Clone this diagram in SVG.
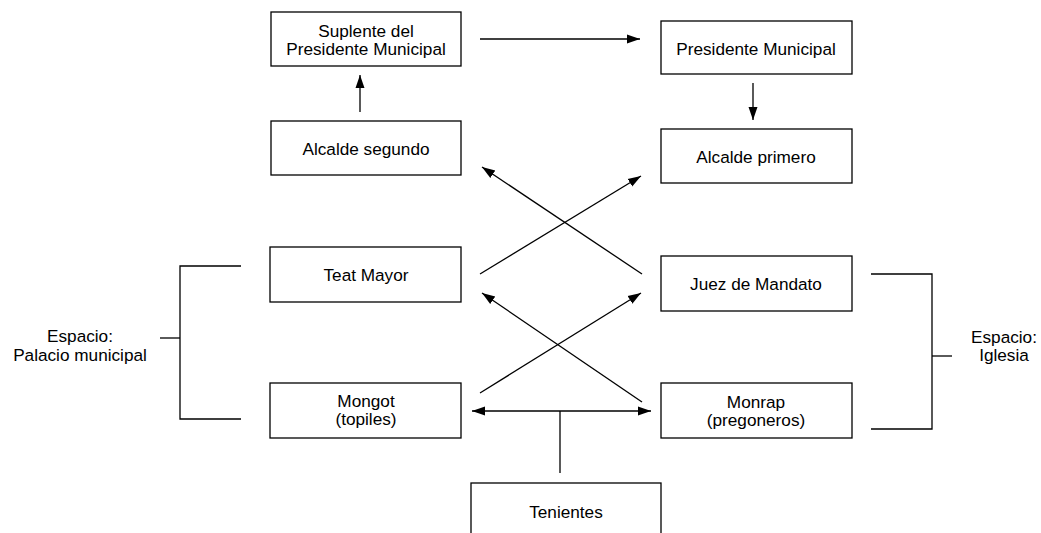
<svg xmlns="http://www.w3.org/2000/svg" width="1041" height="533" viewBox="0 0 1041 533">
<style>
.box{fill:#fff;stroke:#000;stroke-width:1.3}
.t{font-family:"Liberation Sans",Arial,sans-serif;font-size:17.2px;fill:#000;text-anchor:middle}
.c{stroke:#000;stroke-width:1.3;fill:none}
</style>
<defs>
<marker id="ah" markerUnits="userSpaceOnUse" markerWidth="14" markerHeight="12" viewBox="0 0 14 12" refX="13" refY="6" orient="auto-start-reverse">
<path d="M0,1.5 L13,6 L0,10.5 Z" fill="#000"/>
</marker>
</defs>
<rect width="1041" height="533" fill="#fff"/>
<g id="connectors">
<line class="c" x1="480" y1="39" x2="640" y2="39" marker-end="url(#ah)"/>
<line class="c" x1="360" y1="112" x2="360" y2="75" marker-end="url(#ah)"/>
<line class="c" x1="753" y1="83" x2="753" y2="120" marker-end="url(#ah)"/>
<line class="c" x1="480" y1="274" x2="641" y2="176" marker-end="url(#ah)"/>
<line class="c" x1="642" y1="274" x2="482" y2="167" marker-end="url(#ah)"/>
<line class="c" x1="480" y1="393" x2="641" y2="293" marker-end="url(#ah)"/>
<line class="c" x1="642" y1="402" x2="482" y2="293" marker-end="url(#ah)"/>
<line class="c" x1="472" y1="411" x2="651" y2="411" marker-start="url(#ah)" marker-end="url(#ah)"/>
<line class="c" x1="560" y1="411" x2="560" y2="473"/>
<polyline class="c" points="241,266 180,266 180,419 241,419"/>
<line class="c" x1="160" y1="338" x2="180" y2="338"/>
<polyline class="c" points="871,274 932,274 932,429 871,429"/>
<line class="c" x1="932" y1="356" x2="952" y2="356"/>
</g>
<g id="suplente"><rect class="box" x="271" y="12" width="190" height="54"/><text class="t" x="366" y="37">Suplente del</text><text class="t" x="366" y="55">Presidente Municipal</text></g>
<g id="presidente"><rect class="box" x="661" y="21" width="191" height="53"/><text class="t" x="756" y="55">Presidente Municipal</text></g>
<g id="alcalde-segundo"><rect class="box" x="271" y="121" width="190" height="54"/><text class="t" x="366" y="155">Alcalde segundo</text></g>
<g id="alcalde-primero"><rect class="box" x="661" y="129" width="191" height="54"/><text class="t" x="756" y="163">Alcalde primero</text></g>
<g id="teat-mayor"><rect class="box" x="270" y="247" width="191" height="55"/><text class="t" x="366" y="281">Teat Mayor</text></g>
<g id="juez"><rect class="box" x="661" y="256" width="191" height="55"/><text class="t" x="756" y="290">Juez de Mandato</text></g>
<g id="mongot"><rect class="box" x="270" y="383" width="191" height="55"/><text class="t" x="366" y="407">Mongot</text><text class="t" x="366" y="425">(topiles)</text></g>
<g id="monrap"><rect class="box" x="661" y="383" width="191" height="55"/><text class="t" x="756" y="408">Monrap</text><text class="t" x="756" y="426">(pregoneros)</text></g>
<g id="tenientes"><rect class="box" x="471" y="483" width="190" height="60"/><text class="t" x="566" y="518">Tenientes</text></g>
<g id="espacio-palacio"><text class="t" x="80" y="342">Espacio:</text><text class="t" x="80" y="361">Palacio municipal</text></g>
<g id="espacio-iglesia"><text class="t" x="1004" y="343">Espacio:</text><text class="t" x="1004" y="361">Iglesia</text></g>
</svg>
